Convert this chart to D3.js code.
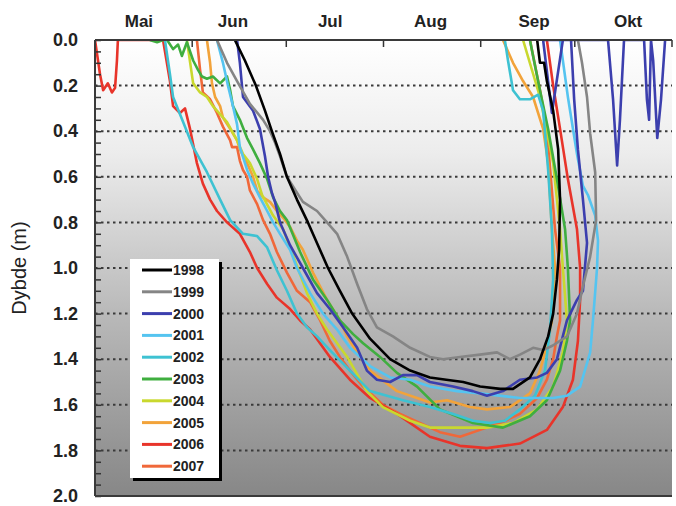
<!DOCTYPE html>
<html>
<head>
<meta charset="utf-8">
<script src="https://cdn.jsdelivr.net/npm/d3@7"></script>
<style>
  body { margin: 0; background: #fff; }
  svg { display: block; font-family: Arial, "Liberation Sans", Helvetica, sans-serif; }
</style>
</head>
<body>
<div class="chart"></div>
<script>
// month labels (placed mid-month) and month boundaries, in days since 1 May
var months = ["Mai", "Jun", "Jul", "Aug", "Sep", "Okt"];
var monthMid = [14, 44, 75, 107, 140, 170];
var monthStart = [0, 31, 61, 92, 123, 153, 184];
var depthLabels = [0, 0.2, 0.4, 0.6, 0.8, 1.0, 1.2, 1.4, 1.6, 1.8, 2.0];

var years = ["1998", "1999", "2000", "2001", "2002", "2003", "2004", "2005", "2006", "2007"];
var colors = ["#000000", "#858585", "#3c3fae", "#55c4f0", "#3ec2d2", "#3fae3f", "#c9d82e", "#f2a33a", "#e8342a", "#f0683a"];

// [day since 1 May, depth m]
var s1998 = [[44.6,0],[47.8,0.09],[51.3,0.2],[54.2,0.31],[56.4,0.4],[59,0.5],[61.2,0.6],[64.4,0.7],[67.9,0.8],[71.1,0.9],[74.3,1.0],[78.1,1.1],[82,1.2],[87.7,1.31],[94.1,1.4],[100.5,1.45],[106.8,1.48],[112,1.49],[117.4,1.5],[122.8,1.52],[129.2,1.53],[133.3,1.53],[138.7,1.48],[141.9,1.4],[144.5,1.3],[146.1,1.2],[147.3,1.05],[148,0.92],[148.3,0.7],[147.7,0.48],[146.1,0.31],[144.1,0.18],[143.2,0.1],[141.9,0.1],[141,0]];
var s1999 = [[38.9,0],[42.1,0.1],[45.3,0.18],[49.4,0.28],[53.6,0.35],[55.8,0.4],[57.4,0.45],[59,0.51],[61.2,0.6],[64.4,0.67],[66.3,0.71],[70.8,0.75],[74,0.8],[77.2,0.85],[80.4,0.95],[83.6,1.07],[86.7,1.18],[89.9,1.26],[95,1.3],[100.5,1.35],[106.8,1.39],[111,1.4],[116.4,1.39],[122.8,1.38],[128.2,1.37],[132.3,1.4],[135.5,1.38],[139.7,1.35],[142.9,1.36],[146,1.34],[150.5,1.3],[153.7,1.2],[155.6,1.08],[157.9,0.95],[159.8,0.79],[159.5,0.58],[157.9,0.41],[156.9,0.25],[155.3,0.1],[154,0]];
var s2000 = [[45.3,0],[46.2,0.1],[47.2,0.25],[50.4,0.31],[52.6,0.39],[54.2,0.51],[55.2,0.6],[56.4,0.67],[57.4,0.71],[59,0.8],[62.2,0.9],[66.3,1.0],[70.8,1.11],[74.9,1.18],[79.1,1.26],[83.6,1.35],[86.7,1.45],[89.9,1.49],[94.1,1.5],[98.2,1.47],[102.7,1.47],[106.8,1.5],[114.2,1.52],[120.5,1.54],[125,1.56],[130.1,1.54],[135.5,1.49],[141,1.48],[144.1,1.46],[147.3,1.4],[150.5,1.23],[153.7,1.14],[155.6,1.1],[156.9,0.89],[155.6,0.7],[154,0.48],[152.8,0.26],[151.8,0],[142.9,0],[145.7,0.32],[149.2,0],[163.6,0],[165.2,0.26],[166.5,0.55],[167.4,0.35],[168.7,0],[175.1,0],[176,0.26],[176.7,0.35],[177.3,0],[178,0.09],[179.3,0.43],[180.5,0.26],[181.8,0]];
var s2001 = [[38.9,0],[40.8,0.1],[42.4,0.2],[44,0.29],[45.3,0.37],[46.2,0.47],[48.5,0.57],[50.4,0.63],[52.6,0.69],[54.9,0.75],[56.8,0.8],[59,0.85],[62.2,0.92],[64.4,1.0],[68.6,1.11],[72.7,1.2],[77.2,1.27],[81.3,1.35],[87.7,1.43],[94.1,1.48],[100.5,1.49],[106.8,1.52],[115.4,1.54],[122.8,1.55],[135.5,1.57],[146.1,1.57],[150.5,1.56],[154.7,1.52],[157.9,1.37],[158.8,1.23],[160.1,1.0],[160.4,0.88],[159.5,0.77],[157.2,0.68],[155.6,0.64],[153.7,0.5],[150.8,0.25],[148.3,0]];
var s2002 = [[22.3,0],[23.9,0.15],[24.9,0.25],[28.1,0.36],[31.3,0.47],[35.7,0.58],[39.9,0.7],[43.1,0.79],[47.2,0.85],[51.7,0.86],[54.9,0.91],[58,1.01],[61.2,1.1],[64.4,1.2],[67.6,1.26],[70.8,1.3],[74.9,1.36],[81.3,1.45],[87.7,1.54],[98.2,1.58],[106.8,1.61],[114.2,1.64],[120.5,1.67],[126,1.68],[130.7,1.67],[135.5,1.62],[140.3,1.56],[143.5,1.45],[145.1,1.27],[146.1,1.05],[145.7,0.83],[144.5,0.57],[142.9,0.31],[141.3,0.24],[138.7,0.26],[135.5,0.26],[133.3,0.22],[131.7,0.09],[130.7,0]];
var s2003 = [[17.5,0],[19.8,0.01],[21.7,0],[23,0],[24.9,0.04],[26.5,0.02],[27.7,0.07],[29.3,0.01],[31.3,0.09],[32.8,0.13],[34.1,0.16],[35.7,0.17],[37.6,0.16],[39.9,0.19],[42.1,0.16],[43.1,0.22],[44,0.29],[46.2,0.35],[48.5,0.43],[50.4,0.48],[52.6,0.54],[54.9,0.61],[56.8,0.69],[59,0.75],[61.2,0.79],[65.4,0.93],[69.5,1.05],[74,1.14],[78.1,1.23],[82.3,1.29],[85.5,1.33],[90.9,1.39],[96.3,1.46],[102.7,1.52],[110,1.62],[120.5,1.68],[130.1,1.7],[138.7,1.65],[144.1,1.58],[148.3,1.45],[150.5,1.32],[151.5,1.23],[150.8,1.0],[149.9,0.83],[147.3,0.61],[144.5,0.39],[141.9,0.22],[139.7,0.07],[138.7,0]];
var s2004 = [[29.3,0],[31.3,0.19],[33.5,0.23],[35.7,0.25],[37.6,0.29],[42.1,0.36],[45.3,0.44],[47.2,0.5],[49.4,0.54],[51.7,0.61],[53.3,0.68],[56.8,0.77],[60,0.83],[62.2,0.91],[64.4,0.99],[67.6,1.11],[70.8,1.2],[74,1.27],[80.4,1.39],[86.7,1.54],[91.8,1.61],[100.5,1.67],[106.8,1.7],[114.2,1.7],[125,1.7],[133.3,1.68],[141,1.62],[146.1,1.52],[149.2,1.37],[150.5,1.23],[149.2,1.0],[148.3,0.83],[146.1,0.54],[141.9,0.25],[136.5,0]];
var s2005 = [[35.7,0],[36.7,0.1],[37.3,0.19],[38.3,0.25],[39.9,0.29],[40.8,0.34],[43.1,0.39],[45.3,0.44],[46.2,0.48],[48.5,0.54],[50.4,0.6],[51.7,0.66],[53.6,0.69],[55.8,0.71],[58,0.75],[60,0.78],[62.2,0.82],[64.4,0.88],[66.3,0.92],[69.5,1.02],[74,1.14],[78.1,1.23],[80.4,1.3],[84,1.38],[87.7,1.45],[96.3,1.54],[102.7,1.57],[106.8,1.59],[112.3,1.58],[119.6,1.61],[125,1.62],[132.3,1.61],[138.7,1.55],[141.9,1.45],[144.5,1.32],[145.7,1.23],[146.7,1.0],[145.7,0.83],[144.5,0.54],[142.9,0.39],[139.7,0.25],[136.5,0.18],[133.3,0.1],[130.1,0]];
var s2006 = [[0,0],[1.6,0.15],[2.6,0.22],[4.1,0.19],[5.4,0.23],[6.4,0.21],[7,0.09],[7.3,0],[21.7,0],[23.9,0.18],[24.9,0.29],[27.1,0.32],[28.7,0.3],[30.3,0.39],[32.5,0.54],[34.4,0.63],[36.7,0.7],[38.9,0.75],[42.1,0.8],[46.2,0.85],[49.4,0.93],[51.7,1.0],[54.9,1.07],[58,1.13],[62.2,1.18],[65.4,1.23],[68.6,1.27],[74.9,1.39],[81.3,1.49],[87.7,1.57],[96.3,1.64],[106.8,1.74],[116.4,1.78],[125,1.79],[135.5,1.77],[144.1,1.71],[149.2,1.61],[152.4,1.49],[154,1.32],[154.7,1.14],[154.7,1.0],[153.7,0.83],[150.8,0.61],[148.3,0.39],[146.1,0.2],[144.1,0]];
var s2007 = [[32.5,0],[33.5,0.13],[34.4,0.23],[36.7,0.26],[38.9,0.32],[40.8,0.38],[43.1,0.44],[43.7,0.47],[45.3,0.47],[46.2,0.53],[47.2,0.57],[48.5,0.6],[49.4,0.66],[51.7,0.72],[53.6,0.79],[55.8,0.85],[58,0.93],[61.2,1.02],[64.4,1.1],[68.6,1.15],[71.8,1.23],[74.9,1.32],[78.1,1.39],[81.3,1.45],[85.5,1.52],[91.8,1.6],[97.3,1.64],[103.6,1.68],[110,1.72],[116.4,1.74],[122.8,1.71],[129.2,1.68],[135.5,1.64],[141,1.57],[144.1,1.49],[146.1,1.4],[147.3,1.3],[148.3,1.23],[148.3,1.0],[146.7,0.83],[144.1,0.39],[141.9,0.22],[138.7,0]];

var seriesData = [s1998, s1999, s2000, s2001, s2002, s2003, s2004, s2005, s2006, s2007];

var W = 676, H = 506;
var margin = {top: 40, right: 4, bottom: 10, left: 95},
    width = W - margin.left - margin.right,
    height = H - margin.top - margin.bottom;

var svg = d3.select(".chart").append("svg")
    .attr("width", W)
    .attr("height", H);

var defs = svg.append("defs");
var grad = defs.append("linearGradient")
    .attr("id", "bg").attr("x1", 0).attr("y1", 0).attr("x2", 0).attr("y2", 1);
grad.append("stop").attr("offset", "0%").attr("stop-color", "#ffffff");
grad.append("stop").attr("offset", "25%").attr("stop-color", "#ececec");
grad.append("stop").attr("offset", "60%").attr("stop-color", "#b9b9b9");
grad.append("stop").attr("offset", "100%").attr("stop-color", "#878787");

defs.append("clipPath").attr("id", "clip")
  .append("rect").attr("width", width).attr("height", height);

var g = svg.append("g")
    .attr("transform", "translate(" + margin.left + "," + margin.top + ")");

var x = d3.scaleLinear().domain([0, 184]).range([0, width]);
var y = d3.scaleLinear().domain([0, 2]).range([0, height]);

// background
g.append("rect")
    .attr("width", width)
    .attr("height", height)
    .attr("fill", "url(#bg)");

// dotted gridlines
g.selectAll(".grid")
  .data(depthLabels.slice(1, -1))
  .enter().append("line")
    .attr("class", "grid")
    .attr("x1", 0).attr("x2", width)
    .attr("y1", function(d) { return y(d); })
    .attr("y2", function(d) { return y(d); })
    .attr("stroke", "#3a3a3a")
    .attr("stroke-width", 2)
    .attr("stroke-dasharray", "2.5,3.5");

// series
var line = d3.line()
    .x(function(d) { return x(d[0]); })
    .y(function(d) { return y(d[1]); });

g.append("g").attr("clip-path", "url(#clip)")
  .selectAll("path")
  .data(seriesData.map(function(d, i) { return {pts: d, c: colors[i]}; }).reverse())
  .enter().append("path")
    .attr("d", function(d) { return line(d.pts); })
    .attr("fill", "none")
    .attr("stroke", function(d) { return d.c; })
    .attr("stroke-width", 2.6)
    .attr("stroke-linejoin", "round");

// left axis: minor ticks every 0.05, labels every 0.2
var yAxis = d3.axisLeft(y)
    .tickValues(d3.range(0, 41).map(function(i) { return i * 0.05; }))
    .tickSize(-6)
    .tickPadding(17)
    .tickFormat(function(d) {
      var k = Math.round(d * 100);
      return k % 20 === 0 ? d3.format(".1f")(d) : "";
    });
var ya = g.append("g").call(yAxis);
ya.select(".domain").remove();
ya.selectAll(".tick line").attr("stroke", "#333").attr("stroke-width", 1.5);
ya.selectAll("text")
    .attr("fill", "#222")
    .style("font-size", "18px")
    .style("font-weight", "bold");

// top month ticks
g.selectAll(".mtick")
  .data(monthStart)
  .enter().append("line")
    .attr("x1", function(d) { return x(d); })
    .attr("x2", function(d) { return x(d); })
    .attr("y1", 0).attr("y2", 7)
    .attr("stroke", "#333").attr("stroke-width", 1.5);

g.selectAll(".mlabel")
  .data(months)
  .enter().append("text")
    .attr("x", function(d, i) { return x(monthMid[i]); })
    .attr("y", -13)
    .attr("text-anchor", "middle")
    .attr("fill", "#222")
    .style("font-size", "17px")
    .style("font-weight", "bold")
    .text(function(d) { return d; });

// frame
g.append("line").attr("x1", 0).attr("x2", width).attr("y1", 0).attr("y2", 0)
    .attr("stroke", "#3a3a3a").attr("stroke-width", 2);
g.append("line").attr("x1", 0).attr("x2", width).attr("y1", height).attr("y2", height)
    .attr("stroke", "#3a3a3a").attr("stroke-width", 2);
g.append("line").attr("x1", 0).attr("x2", 0).attr("y1", 0).attr("y2", height)
    .attr("stroke", "#3a3a3a").attr("stroke-width", 2);

// y label
svg.append("text")
    .attr("transform", "translate(26," + (margin.top + y(1.0)) + ") rotate(-90)")
    .attr("text-anchor", "middle")
    .attr("fill", "#222")
    .style("font-size", "20px")
    .text("Dybde (m)");

// legend
var lg = svg.append("g").attr("transform", "translate(130,259)");
lg.append("rect").attr("x", 3).attr("y", 3).attr("width", 89).attr("height", 219).attr("fill", "#000");
lg.append("rect").attr("width", 89).attr("height", 219).attr("fill", "#fff");
var item = lg.selectAll(".item")
  .data(years)
  .enter().append("g")
    .attr("transform", function(d, i) { return "translate(0," + (11 + i * 21.8) + ")"; });
item.append("line")
    .attr("x1", 12).attr("x2", 42)
    .attr("stroke", function(d, i) { return colors[i]; })
    .attr("stroke-width", 3);
item.append("text")
    .attr("x", 43).attr("dy", "0.36em")
    .attr("fill", "#222")
    .style("font-size", "14px")
    .style("font-weight", "bold")
    .text(function(d) { return d; });
</script>
</body>
</html>
